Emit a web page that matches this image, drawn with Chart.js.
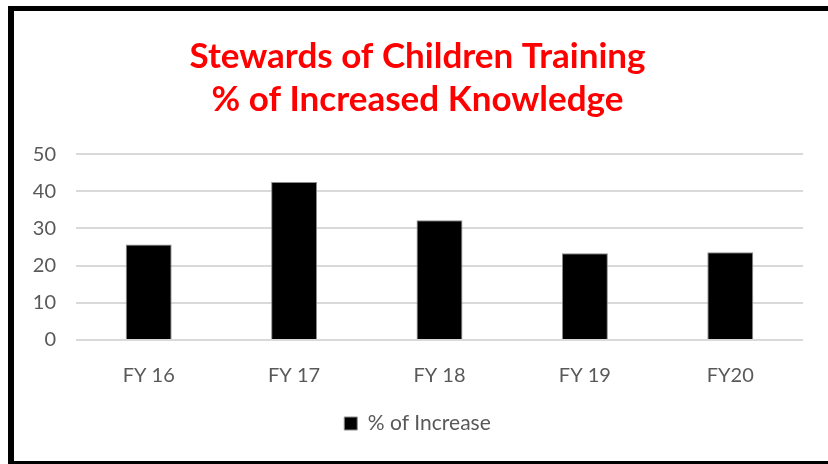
<!DOCTYPE html>
<html>
<head>
<meta charset="utf-8">
<script src="https://cdn.jsdelivr.net/npm/chart.js@4"></script>
<style>
    html, body { margin: 0; padding: 0; background: #fff; }
    #wrap { position: relative; width: 828px; height: 464px; }
    #frame {
        position: absolute; left: 8px; top: 6px; width: 840px; height: 450px;
        border-left: 6px solid #000; border-top: 5px solid #000; border-bottom: 3px solid #000;
        pointer-events: none;
    }
    canvas { position: absolute; left: 0; top: 0; }
</style>
</head>
<body>
<div id="wrap">
    <canvas id="chart" width="828" height="464"></canvas>
    <div id="frame"></div>
</div>
<script>
const categories = ['FY 16', 'FY 17', 'FY 18', 'FY 19', 'FY20'];
const increaseValues = [25.7, 42.5, 32.2, 23.3, 23.6];
const yTicks = [0, 10, 20, 30, 40, 50];

const grey = '#595959';

new Chart(document.getElementById('chart'), {
    type: 'bar',
    data: {
        labels: categories,
        datasets: [{
            label: '% of Increase',
            data: increaseValues,
            backgroundColor: '#000000',
            borderColor: '#8c8c8c',
            borderWidth: 1,
            barPercentage: 0.316,
            categoryPercentage: 1
        }]
    },
    options: {
        responsive: false,
        animation: false,
        layout: {
            // left padding nudges the title centre right; y axis labels are clipped to the axis box so keep it small
            padding: { top: 9, right: 25, bottom: 20, left: 32 }
        },
        plugins: {
            title: {
                display: true,
                text: ['Stewards of Children Training', '% of Increased Knowledge'],
                color: '#ff0000',
                font: { family: 'Lato', size: 35, weight: 'bold', lineHeight: 1.23 },
                padding: { top: 26, bottom: 33 }
            },
            legend: {
                position: 'bottom',
                labels: {
                    color: grey,
                    font: { family: 'Lato', size: 21 },
                    boxWidth: 13,
                    boxHeight: 13,
                    padding: 9
                }
            },
            tooltip: { enabled: false }
        },
        scales: {
            x: {
                grid: { display: false },
                border: { display: false },
                ticks: {
                    color: grey,
                    font: { family: 'Lato', size: 20 },
                    padding: 16
                },
                afterFit: scale => { scale.height = 64; }
            },
            y: {
                min: 0,
                max: 50,
                afterBuildTicks: scale => { scale.ticks = yTicks.map(v => ({ value: v })); },
                grid: { color: '#d9d9d9', lineWidth: 2, drawTicks: false },
                border: { display: false },
                ticks: {
                    color: grey,
                    font: { family: 'Lato', size: 20 },
                    padding: 20
                },
                afterFit: scale => { scale.width = 44; }
            }
        }
    }
});
</script>
</body>
</html>
